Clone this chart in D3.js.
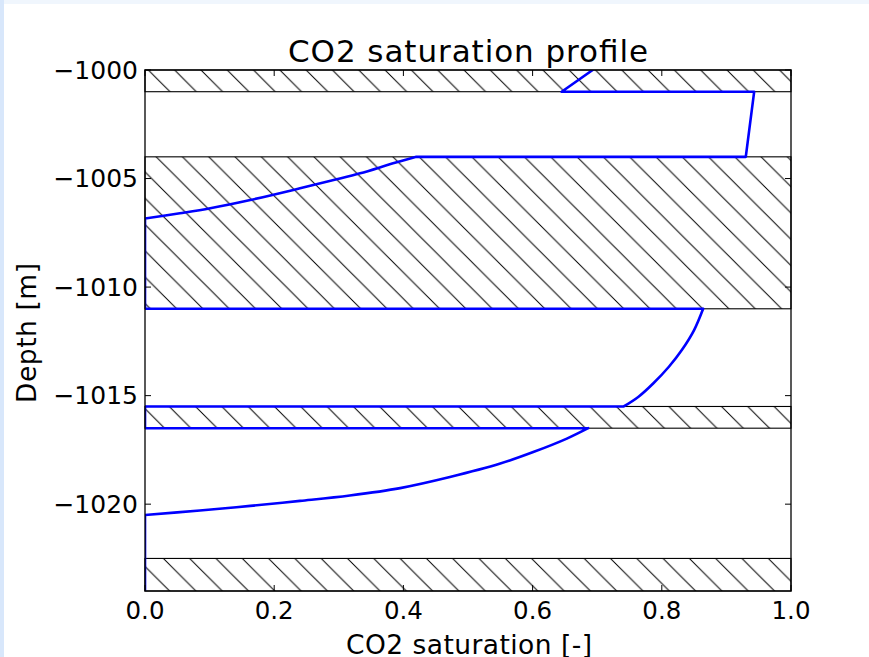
<!DOCTYPE html>
<html>
<head>
<meta charset="utf-8">
<script src="https://cdnjs.cloudflare.com/ajax/libs/d3/7.8.5/d3.min.js"></script>
<style>
  html, body { margin: 0; padding: 0; background: #ffffff; }
  svg { display: block; }
  text { font-family: "DejaVu Sans", sans-serif; fill: #000; }
</style>
</head>
<body>
<svg id="chart" width="869" height="657"></svg>
<script>
// ---- data ----
const title = "CO2 saturation profile";
const xLabel = "CO2 saturation [-]";
const yLabel = "Depth [m]";
const xTicks = [0.0, 0.2, 0.4, 0.6, 0.8, 1.0];
const yTicks = [-1000, -1005, -1010, -1015, -1020];
const xDomain = [0, 1];
const yDomain = [-1024, -1000];
// sealing (hatched) layers: [top, bottom]
const sealTop = [-1000, -1004, -1015.5, -1022.5];
const sealBottom = [-1001, -1011, -1016.5, -1024];
// CO2 saturation profile
const profileDepth = [-1000, -1001, -1001, -1004, -1004, -1004.30, -1004.76, -1005.07, -1005.45, -1005.99, -1006.37, -1006.60, -1006.84,
  -1011, -1011, -1011.98, -1012.90, -1013.67, -1014.43, -1015.05, -1015.5, -1015.5,
  -1016.5, -1016.5, -1016.98, -1017.60, -1018.13, -1018.75, -1019.26, -1019.60, -1019.85, -1020.08, -1020.29, -1020.5, -1024];
const profileSat = [0.693, 0.645, 0.943, 0.930, 0.42, 0.384, 0.333, 0.292, 0.240, 0.163, 0.101, 0.054, 0,
  0, 0.864, 0.850, 0.831, 0.811, 0.787, 0.764, 0.741, 0,
  0, 0.686, 0.653, 0.601, 0.550, 0.472, 0.395, 0.317, 0.240, 0.163, 0.085, 0, 0];
// index ranges of the profile that are smooth curves (inside the aquifers / caprock)
const curveStart = [4, 14, 23];
const curveEnd = [12, 20, 33];

// ---- layout ----
const W = 869, H = 657;
const plot = { left: 145, right: 791, top: 70, bottom: 591 };
const svg = d3.select("#chart");

// background edges (window chrome)
svg.append("rect").attr("x", 0).attr("y", 0).attr("width", W).attr("height", H).attr("fill", "#ffffff");
svg.append("rect").attr("x", 0).attr("y", 0).attr("width", W).attr("height", 4).attr("fill", "#f0f6fd");
svg.append("rect").attr("x", 0).attr("y", 0).attr("width", 4).attr("height", H).attr("fill", "#d8e7fb");

const x = d3.scaleLinear().domain(xDomain).range([plot.left, plot.right]);
const y = d3.scaleLinear().domain(yDomain).range([plot.bottom, plot.top]);

// hatch pattern
const s = 26.3;
const defs = svg.append("defs");
const pat = defs.append("pattern")
  .attr("id", "hatch").attr("patternUnits", "userSpaceOnUse")
  .attr("x", 25.7).attr("y", 0).attr("width", s).attr("height", s);
pat.append("path")
  .attr("d", `M-2,-2 L${s + 2},${s + 2} M${s - 2},-2 L${s + 2},2 M-2,${s - 2} L2,${s + 2}`)
  .attr("stroke", "#000").attr("stroke-width", 1).attr("fill", "none");
defs.append("clipPath").attr("id", "clip").append("rect")
  .attr("x", plot.left).attr("y", plot.top)
  .attr("width", plot.right - plot.left).attr("height", plot.bottom - plot.top);

// seal layers
const seals = sealTop.map((t, i) => ({ top: t, bottom: sealBottom[i] }));
svg.append("g").selectAll("rect").data(seals).join("rect")
  .attr("x", x(0)).attr("width", x(1) - x(0))
  .attr("y", d => y(d.top)).attr("height", d => y(d.bottom) - y(d.top))
  .attr("fill", "url(#hatch)")
  .attr("stroke", "#000").attr("stroke-width", 1.1);

// profile line: straight pieces + smooth curved pieces
const pts = profileDepth.map((d, i) => [profileSat[i], d]);
const ctx = d3.path();
const lin = d3.line().x(d => x(d[0])).y(d => y(d[1])).context(ctx);
const smooth = d3.line().x(d => x(d[0])).y(d => y(d[1])).curve(d3.curveCatmullRom.alpha(0.5)).context(ctx);
let prev = 0;
curveStart.forEach((cs, k) => {
  lin(pts.slice(prev, cs + 1));
  smooth(pts.slice(cs, curveEnd[k] + 1));
  prev = curveEnd[k];
});
lin(pts.slice(prev));
svg.append("path")
  .attr("clip-path", "url(#clip)")
  .attr("d", ctx.toString())
  .attr("fill", "none").attr("stroke", "#0000ff").attr("stroke-width", 2.6)
  .attr("stroke-linejoin", "round").attr("stroke-linecap", "round");

// frame
svg.append("rect")
  .attr("x", plot.left).attr("y", plot.top)
  .attr("width", plot.right - plot.left).attr("height", plot.bottom - plot.top)
  .attr("fill", "none").attr("stroke", "#000").attr("stroke-width", 1.3);

// ticks (inside)
const tl = 6;
const tg = svg.append("g").attr("stroke", "#000").attr("stroke-width", 1);
xTicks.forEach(v => {
  tg.append("line").attr("x1", x(v)).attr("x2", x(v)).attr("y1", plot.bottom).attr("y2", plot.bottom - tl);
  tg.append("line").attr("x1", x(v)).attr("x2", x(v)).attr("y1", plot.top).attr("y2", plot.top + tl);
});
yTicks.forEach(v => {
  tg.append("line").attr("x1", plot.left).attr("x2", plot.left + tl).attr("y1", y(v)).attr("y2", y(v));
  tg.append("line").attr("x1", plot.right).attr("x2", plot.right - tl).attr("y1", y(v)).attr("y2", y(v));
});

// tick labels
svg.append("g").selectAll("text").data(xTicks).join("text")
  .attr("x", d => x(d)).attr("y", 619)
  .attr("text-anchor", "middle").attr("font-size", 24.5)
  .text(d => d3.format(".1f")(d));
svg.append("g").selectAll("text").data(yTicks).join("text")
  .attr("x", 138).attr("y", d => y(d) + 8.8)
  .attr("text-anchor", "end").attr("font-size", 25)
  .text(d => d3.format("d")(d).replace("-", "\u2212"));

// title & labels
svg.append("text").attr("x", 468).attr("y", 62).attr("text-anchor", "middle")
  .attr("font-size", 31).attr("textLength", 360).attr("lengthAdjust", "spacing").text(title);
svg.append("text").attr("x", 469).attr("y", 654).attr("text-anchor", "middle")
  .attr("font-size", 26.5).attr("textLength", 246).attr("lengthAdjust", "spacing").text(xLabel);
svg.append("text").attr("transform", "translate(36,333) rotate(-90)").attr("text-anchor", "middle")
  .attr("font-size", 26.5).attr("textLength", 140).attr("lengthAdjust", "spacing").text(yLabel);
</script>
</body>
</html>
